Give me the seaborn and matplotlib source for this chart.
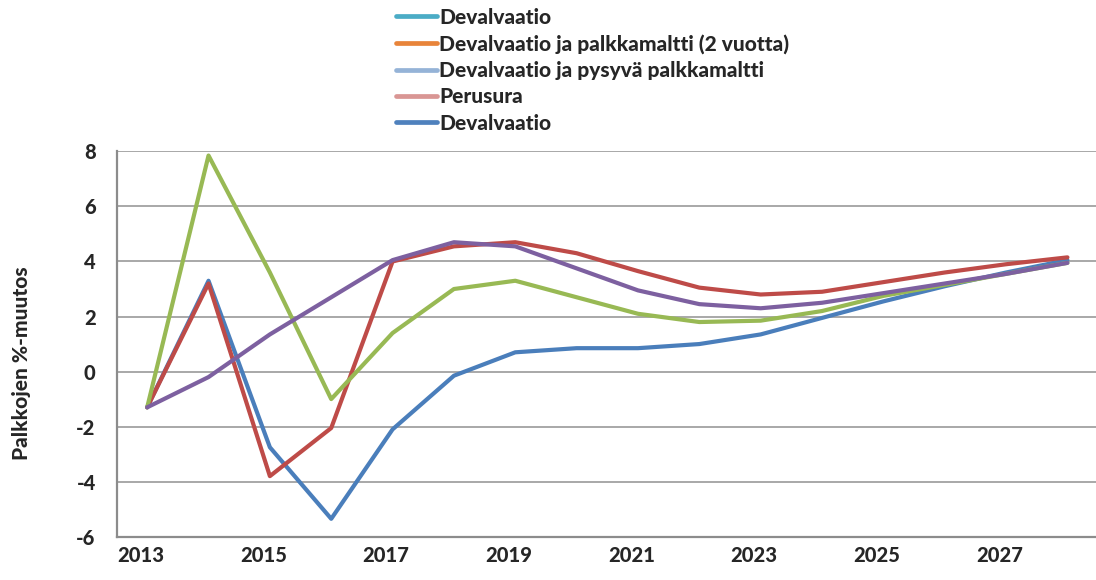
import matplotlib
matplotlib.use("Agg")
import matplotlib.pyplot as plt
from matplotlib.lines import Line2D
import seaborn as sns
import pandas as pd
import numpy as np

years = list(range(2013, 2029))
devalvaatio = [-1.3, 3.3, -2.75, -5.35, -2.1, -0.15, 0.7, 0.85, 0.85, 1.0, 1.35, 1.95, 2.55, 3.1, 3.6, 4.05]
perusura = [-1.3, 3.2, -3.8, -2.05, 4.0, 4.55, 4.7, 4.3, 3.65, 3.05, 2.8, 2.9, 3.25, 3.6, 3.9, 4.15]
palkkamaltti_2v = [-1.3, 7.85, 3.6, -1.0, 1.4, 3.0, 3.3, 2.7, 2.1, 1.8, 1.85, 2.2, 2.75, 3.15, 3.55, 3.95]
pysyva_palkkamaltti = [-1.3, -0.2, 1.35, 2.7, 4.05, 4.7, 4.55, 3.75, 2.95, 2.45, 2.3, 2.5, 2.85, 3.2, 3.55, 3.95]

series_names = ["Sarja 1", "Sarja 2", "Sarja 3", "Sarja 4"]
series_values = [devalvaatio, perusura, palkkamaltti_2v, pysyva_palkkamaltti]
line_colors = ["#4A7EBB", "#BE4B48", "#98B954", "#7D60A0"]

legend_labels = ["Devalvaatio", "Devalvaatio ja palkkamaltti (2 vuotta)",
                 "Devalvaatio ja pysyvä palkkamaltti", "Perusura", "Devalvaatio"]
legend_colors = ["#4BACC6", "#E8843A", "#95B3D7", "#D99694", "#4F81BD"]

tick_years = list(range(2013, 2029, 2))
y_ticks = [-6, -4, -2, 0, 2, 4, 6, 8]

rows = []
for name, vals in zip(series_names, series_values):
    for i, v in enumerate(vals):
        rows.append({"pos": i, "value": v, "series": name})
df = pd.DataFrame(rows)

sns.set_style("white")
plt.rcParams["font.family"] = ["Lato", "DejaVu Sans"]
W = "black"
plt.rcParams["font.weight"] = W

fig = plt.figure(figsize=(10.96, 5.80), dpi=100)
ax = fig.add_axes([116.5 / 1096, 1 - 536.7 / 580, (1096 - 116.5) / 1096, (536.7 - 151.4) / 580])

sns.lineplot(data=df, x="pos", y="value", hue="series", hue_order=series_names,
             palette=line_colors, linewidth=3.0, legend=False, ax=ax, sort=False)

step = 61.35
ax.set_xlim(-0.5, -0.5 + (1096 - 116.5) / step)
ax.set_ylim(-6, 8)
ax.set_yticks(y_ticks)
ax.set_yticklabels([str(t) for t in y_ticks], fontsize=14.5, fontweight=W)
ax.yaxis.grid(True, color="#9A9A9A", linewidth=1.2)
ax.xaxis.grid(False)
ax.tick_params(axis="y", length=0, pad=15)

ax.set_xticks([years.index(y) - 0.106 for y in tick_years])
ax.set_xticklabels([str(y) for y in tick_years], fontsize=14.5, fontweight=W)
ax.set_xticks(np.arange(0.5, 15.5, 1.0), minor=True)
ax.tick_params(axis="x", which="major", length=0, pad=7)
ax.tick_params(axis="x", which="minor", direction="in", length=4.5, width=1, color="#8C8C8C")

for s in ["top", "right"]:
    ax.spines[s].set_visible(False)
for s in ["left", "bottom"]:
    ax.spines[s].set_color("#8C8C8C")
    ax.spines[s].set_linewidth(1.6)

ax.set_xlabel("")
ax.set_ylabel("")
fig.text(21.5 / 1096, 1 - 363 / 580, "Palkkojen %-muutos", rotation=90,
         ha="center", va="center", fontsize=15, fontweight=W)

handles = [Line2D([0], [0], color=c, linewidth=3.4) for c in legend_colors]
leg = fig.legend(handles, legend_labels, loc="upper left",
                 bbox_to_anchor=(396 / 1096, 1 - 7.5 / 580), frameon=False,
                 prop={"size": 15, "weight": W}, handlelength=1.95, handletextpad=0.12,
                 labelspacing=0.35, borderpad=0, borderaxespad=0)

fig.savefig("out.png", dpi=100)
